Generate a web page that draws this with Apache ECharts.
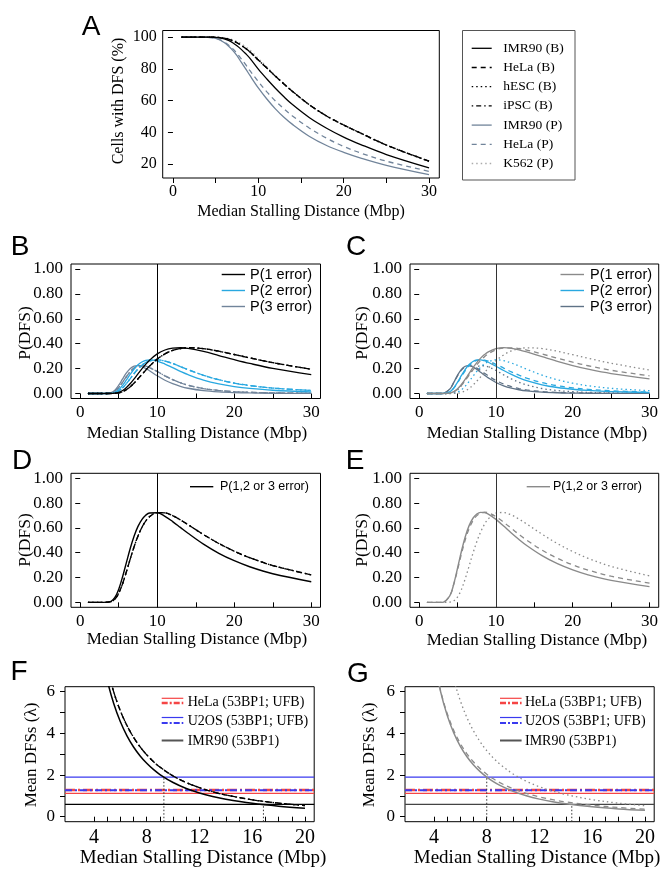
<!DOCTYPE html>
<html><head><meta charset="utf-8">
<script src="https://cdn.jsdelivr.net/npm/echarts@6/dist/echarts.min.js"></script>
<style>html,body{margin:0;padding:0;background:#fff}#c{width:661px;height:872px}</style>
</head><body><div id="c"></div>
<script>
// ---------- shared x grid (Median Stalling Distance, Mbp) ----------
const xs = [1,3,4,4.5,5,5.5,6,6.5,7,7.5,8,8.5,9,10,11,12,13,14,16,18,20,22,25,30];
const xTicks = [0,5,10,15,20,25,30];
const xLabels = [0,10,20,30];
const pctTicks = [20,40,60,80,100];
const probTicks = [0,0.2,0.4,0.6,0.8,1.0];
const refLine = 10;

// ---------- Panel A: cells with DFS (%) ----------
const cellsIMR90B = [100,100,100,99.97,99.86,99.56,98.95,97.94,96.48,94.59,92.29,89.67,86.80,79.8,73.6,67.8,62.4,57.5,49.2,42.6,37.0,32.3,26.0,17.6];
const cellsOtherB = [100,100,100,99.98,99.92,99.75,99.38,98.74,97.79,96.49,94.86,92.94,90.76,85.6,80.5,75.4,70.5,65.8,57.3,50.3,44.6,39.5,32.0,21.8];
const cellsIMR90P = [100,100,99.95,99.75,99.23,98.20,96.59,94.38,91.64,88.3,84.2,80.2,76.0,68.0,61.0,54.8,49.5,45.0,37.4,31.7,27.4,23.8,19.2,13.3];
const cellsHeLaP  = [100,100,99.95,99.76,99.30,98.41,97.01,95.11,92.75,89.8,86.4,82.8,79.0,72.0,65.5,59.8,54.8,50.3,42.6,36.3,31.1,26.9,21.8,15.4];
const cellsK562P  = [100,100,100,99.99,99.96,99.86,99.61,99.14,98.37,97.26,95.80,94.02,91.95,86.6,81.2,75.8,70.7,65.9,57.2,50.1,44.3,39.2,31.7,21.5];

// ---------- Panel B: P(k errors), B-lines ----------
const p1IMR90B = [0,0,0.0004,0.0025,0.0093,0.0240,0.0479,0.0800,0.1178,0.1579,0.1976,0.2345,0.2673,0.3181,0.3495,0.3646,0.3677,0.3624,0.3377,0.3051,0.2721,0.2415,0.2016,0.1517];
const p2IMR90B = [0,0,0.0019,0.0100,0.0305,0.0650,0.1090,0.1553,0.1971,0.2302,0.2532,0.2662,0.2706,0.2609,0.2368,0.2076,0.1784,0.1517,0.1082,0.0772,0.0558,0.0409,0.0264,0.0138];
const p3IMR90B = [0,0,0.0064,0.0269,0.0666,0.1175,0.1655,0.2010,0.2199,0.2238,0.2162,0.2014,0.1827,0.1426,0.1069,0.0788,0.0577,0.0423,0.0231,0.0130,0.0076,0.0046,0.0023,0.0008];
const p1OtherB = [0,0,0.0002,0.0014,0.0056,0.0151,0.0316,0.0550,0.0843,0.1176,0.1525,0.1872,0.2200,0.2766,0.3185,0.3461,0.3615,0.3676,0.3605,0.3396,0.3133,0.2862,0.2478,0.1951];
const p2OtherB = [0,0,0.0011,0.0063,0.0201,0.0452,0.0803,0.1203,0.1607,0.1970,0.2264,0.2481,0.2620,0.2706,0.2607,0.2407,0.2166,0.1915,0.1464,0.1107,0.0838,0.0641,0.0437,0.0245];
const p3OtherB = [0,0,0.0041,0.0182,0.0478,0.0901,0.1359,0.1756,0.2041,0.2199,0.2240,0.2191,0.2081,0.1764,0.1422,0.1116,0.0865,0.0665,0.0396,0.0240,0.0149,0.0096,0.0051,0.0020];

// ---------- Panel C: P(k errors), P-lines ----------
const p1IMR90P = [0,0,0.0038,0.0148,0.0376,0.0722,0.1152,0.1619,0.2074,0.2488,0.2842,0.3127,0.3346,0.3604,0.3679,0.3629,0.3504,0.3335,0.2954,0.2577,0.2243,0.1953,0.1602,0.1180];
const p2IMR90P = [0,0,0.0145,0.0445,0.0913,0.1451,0.1946,0.2330,0.2574,0.2690,0.2700,0.2631,0.2511,0.2191,0.1849,0.1532,0.1261,0.1034,0.0702,0.0483,0.0341,0.0245,0.0156,0.0080];
const p3IMR90P = [0,0,0.0366,0.0890,0.1481,0.1944,0.2191,0.2235,0.2130,0.1938,0.1710,0.1476,0.1256,0.0888,0.0619,0.0431,0.0302,0.0214,0.0111,0.0060,0.0035,0.0021,0.0010,0.0004];
const p1HeLaP = [0,0,0.0040,0.0143,0.0349,0.0659,0.1049,0.1475,0.1903,0.2302,0.2654,0.2952,0.3191,0.3511,0.3655,0.3673,0.3607,0.3488,0.3173,0.2834,0.2515,0.2229,0.1868,0.1417];
const p2HeLaP = [0,0,0.0149,0.0432,0.0865,0.1365,0.1841,0.2226,0.2496,0.2651,0.2706,0.2683,0.2604,0.2347,0.2042,0.1740,0.1469,0.1235,0.0873,0.0624,0.0454,0.0336,0.0221,0.0119];
const p3HeLaP = [0,0,0.0376,0.0871,0.1429,0.1883,0.2154,0.2240,0.2184,0.2035,0.1839,0.1626,0.1417,0.1046,0.0760,0.0550,0.0399,0.0291,0.0160,0.0092,0.0055,0.0034,0.0017,0.0007];
const p1K562P = [0,0,0.0001,0.0006,0.0028,0.0091,0.0214,0.0409,0.0672,0.0986,0.1331,0.1685,0.2029,0.2639,0.3103,0.3416,0.3596,0.3672,0.3611,0.3394,0.3119,0.2832,0.2432,0.1887];
const p2K562P = [0,0,0.0004,0.0028,0.0113,0.0298,0.0595,0.0973,0.1382,0.1774,0.2110,0.2373,0.2555,0.2705,0.2641,0.2453,0.2208,0.1952,0.1478,0.1104,0.0826,0.0623,0.0416,0.0226];
const p3K562P = [0,0,0.0014,0.0090,0.0298,0.0655,0.1103,0.1542,0.1896,0.2126,0.2230,0.2228,0.2146,0.1849,0.1498,0.1174,0.0904,0.0691,0.0403,0.0239,0.0146,0.0091,0.0048,0.0018];

// ---------- Panels D / E: P(1,2 or 3 error) ----------
const p123IMR90B = [0,0,0.0086,0.0393,0.1064,0.2065,0.3224,0.4363,0.5348,0.6119,0.6670,0.7021,0.7206,0.7216,0.6932,0.6510,0.6038,0.5564,0.4690,0.3953,0.3355,0.2870,0.2303,0.1663];
const p123OtherB = [0,0,0.0055,0.0259,0.0735,0.1504,0.2478,0.3509,0.4491,0.5345,0.6029,0.6544,0.6901,0.7236,0.7214,0.6984,0.6646,0.6256,0.5465,0.4743,0.4120,0.3599,0.2966,0.2216];
const p123IMR90P = [0,0,0.0549,0.1483,0.2770,0.4117,0.5289,0.6184,0.6778,0.7116,0.7252,0.7234,0.7113,0.6683,0.6147,0.5592,0.5067,0.4583,0.3767,0.3120,0.2619,0.2219,0.1768,0.1264];
const p123HeLaP  = [0,0,0.0565,0.1446,0.2643,0.3907,0.5044,0.5941,0.6583,0.6988,0.7199,0.7261,0.7212,0.6904,0.6457,0.5963,0.5475,0.5014,0.4206,0.3550,0.3024,0.2599,0.2106,0.1543];
const p123K562P  = [0,0,0.0018,0.0123,0.0439,0.1044,0.1912,0.2924,0.3950,0.4886,0.5671,0.6286,0.6730,0.7193,0.7242,0.7043,0.6708,0.6315,0.5492,0.4737,0.4091,0.3546,0.2896,0.2131];

// ---------- Panels F / G: mean DFSs (lambda) ----------
const lamX = [4,4.5,5,5.5,6,6.5,7,7.5,8,8.5,9,10,11,12,13,14,16,18,20];
const lamXTicks = [4,5,6,7,8,9,10,11,12,13,14,15,16,17,18,19,20];
const lamXLabels = [4,8,12,16,20];
const lamYTicks = [0,1,2,3,4,5,6];
const lamYLabels = [0,2,4,6];
const lamIMR90B = [10.25,8.10,6.56,5.42,4.556,3.882,3.347,2.916,2.5625,2.270,2.025,1.64,1.355,1.139,0.970,0.837,0.641,0.506,0.41];
const lamOtherB = [10.85,8.71,7.15,5.98,5.08,4.377,3.811,3.349,2.969,2.650,2.382,1.956,1.637,1.391,1.198,1.042,0.812,0.6516,0.535];
const lamIMR90P = [7.6,6.005,4.864,4.02,3.378,2.878,2.482,2.162,1.90,1.683,1.501,1.216,1.005,0.844,0.7195,0.620,0.475,0.375,0.304];
const lamHeLaP  = [7.557,6.048,4.956,4.140,3.511,3.019,2.624,2.303,2.039,1.818,1.632,1.337,1.117,0.9474,0.8145,0.708,0.550,0.4402,0.3608];
const lamK562P  = [12.27,9.751,7.938,6.590,5.559,4.756,4.115,3.596,3.170,2.816,2.519,2.050,1.702,1.436,1.228,1.063,0.8187,0.6504,0.5296];
// observed levels
const hela53BP1 = 1.12, helaUFB = 1.28, u2os53BP1 = 1.90, u2osUFB = 1.27, imr9053BP1 = 0.59;
const crossY = [1.90, 0.59];
const crossXF = [9.3, 16.85];
const crossXG = [8.0, 14.45];

// ---------- legend texts ----------
const legendA = ['IMR90 (B)','HeLa (B)','hESC (B)','iPSC (B)','IMR90 (P)','HeLa (P)','K562 (P)'];
const legendP = ['P(1 error)','P(2 error)','P(3 error)'];
const legendSum = 'P(1,2 or 3 error)';
const legendFG = ['HeLa (53BP1; UFB)','U2OS (53BP1; UFB)','IMR90 (53BP1)'];
const xTitle = 'Median Stalling Distance (Mbp)';

// ---------- styles ----------
const SOLID = 'solid', DASH = [5,4], DOT = [1.5,3], DOTDASH = [1.5,3,5,3];
const BLACK = '#000', SKY = '#29a8e0', SLATE = '#71849a', SLATE_C = '#5f7286', GREY = '#8a8a8a', LGREY = '#ababab';
const RED = '#f54545', BLUE = '#3a3aef';
const SERIF = "'Liberation Serif', 'Times New Roman', serif";
const SANS = "'Liberation Sans', Arial, sans-serif";

const chart = echarts.init(document.getElementById('c'), null, {renderer: 'canvas'});

const grids = [
  {left:162.7, top:30.5, width:276.6, height:147.5},
  {left:71, top:264, width:249.5, height:134.5},
  {left:410, top:264, width:249.5, height:134.5},
  {left:71, top:473.3, width:249.5, height:134},
  {left:410, top:473.3, width:249.5, height:134},
  {left:65, top:686.7, width:249.2, height:135},
  {left:405, top:686.7, width:249.2, height:135}
].map(g => Object.assign({show:true, borderColor:'#000', borderWidth:1, backgroundColor:'transparent'}, g));

function axis(gi, min, max, ticks, labels, fontSize, margin, fmt) {
  return {
    type:'value', gridIndex:gi, min, max, scale:false,
    axisLine:{show:false}, splitLine:{show:false},
    axisTick:{show:true, length:5, customValues:ticks, lineStyle:{color:'#000', width:1}},
    axisLabel:{show:true, customValues:labels, fontFamily:SERIF, fontSize, color:'#000', margin,
      formatter: fmt || (v => String(v))}
  };
}
const f2 = v => v.toFixed(2);
const xAxes = [
  axis(0,-1.2,31.2,xTicks,xLabels,16,6),
  axis(1,-1.2,31.2,xTicks,xLabels,17,6),
  axis(2,-1.2,31.2,xTicks,xLabels,17,6),
  axis(3,-1.2,31.2,xTicks,xLabels,17,6),
  axis(4,-1.2,31.2,xTicks,xLabels,17,6),
  axis(5,1.8,20.7,lamXTicks,lamXLabels,20,6),
  axis(6,1.8,20.7,lamXTicks,lamXLabels,20,6)
];
const yAxes = [
  axis(0,11.2,104.2,pctTicks,pctTicks,16,6),
  axis(1,-0.04,1.04,probTicks,probTicks,17,8,f2),
  axis(2,-0.04,1.04,probTicks,probTicks,17,8,f2),
  axis(3,-0.04,1.04,probTicks,probTicks,17,8,f2),
  axis(4,-0.04,1.04,probTicks,probTicks,17,8,f2),
  axis(5,-0.24,6.24,lamYTicks,lamYLabels,17,10),
  axis(6,-0.24,6.24,lamYTicks,lamYLabels,17,10)
];

function S(name, gi, xArr, yArr, color, dash, width, extra) {
  return Object.assign({
    type:'line', name, xAxisIndex:gi, yAxisIndex:gi,
    data: xArr.map((x,i) => [x, yArr[i]]),
    symbol:'none', smooth:0.35, silent:true, animation:false, clip:true,
    lineStyle:{color, width: width || 1.3, type: dash}
  }, extra || {});
}
const vRef = (color) => ({markLine:{symbol:'none', silent:true, animation:false, label:{show:false},
  lineStyle:{color, width:1, type:'solid'}, data:[{xAxis: refLine}]}});

// horizontal observed levels: two-point lines across the axis range
function H(name, gi, y, color, width, dash) {
  return {type:'line', name, xAxisIndex:gi, yAxisIndex:gi, symbol:'none', silent:true, animation:false,
    data:[[xAxes[gi].min, y],[xAxes[gi].max, y]], lineStyle:{color, width, type:dash}};
}
function levels(gi, imrColor, tag) {
  return [
    H(tag+'HeLa 53BP1', gi, hela53BP1, RED, 1.2, 'solid'),
    H(tag+'HeLa UFB', gi, helaUFB, RED, 2.6, [10,3,2,3]),
    H(tag+'U2OS 53BP1', gi, u2os53BP1, BLUE, 1.2, 'solid'),
    H(tag+'U2OS UFB', gi, u2osUFB, BLUE, 1.8, [7,3,2,3]),
    H(tag+'IMR90 53BP1', gi, imr9053BP1, imrColor, 1.2, 'solid')
  ];
}
function crossSeries(gi, xArr, name) {
  return xArr.map((x,i) => ({
    type:'line', name: name + i, xAxisIndex:gi, yAxisIndex:gi, symbol:'none', silent:true, animation:false,
    data:[[x, yAxes[gi].min],[x, crossY[i]]],
    lineStyle:{color:'#333', width:1, type:[1.5,2]}
  }));
}

const series = [
  // A
  S('K562 (P)',0,xs,cellsK562P,LGREY,DOT),
  S('IMR90 (P)',0,xs,cellsIMR90P,SLATE,SOLID),
  S('HeLa (P)',0,xs,cellsHeLaP,SLATE,DASH),
  S('IMR90 (B)',0,xs,cellsIMR90B,BLACK,SOLID),
  S('HeLa (B)',0,xs,cellsOtherB,BLACK,DASH),
  S('hESC (B)',0,xs,cellsOtherB,BLACK,DOT),
  S('iPSC (B)',0,xs,cellsOtherB,BLACK,DOTDASH),
  // B
  S('B P3 IMR90',1,xs,p3IMR90B,SLATE,SOLID,1.3,vRef('#000')),
  S('B P3 HeLa',1,xs,p3OtherB,SLATE,DASH),
  S('B P3 hESC',1,xs,p3OtherB,SLATE,DOT),
  S('B P3 iPSC',1,xs,p3OtherB,SLATE,DOTDASH),
  S('B P2 IMR90',1,xs,p2IMR90B,SKY,SOLID),
  S('B P2 HeLa',1,xs,p2OtherB,SKY,DASH),
  S('B P2 hESC',1,xs,p2OtherB,SKY,DOT),
  S('B P2 iPSC',1,xs,p2OtherB,SKY,DOTDASH),
  S('B P1 IMR90',1,xs,p1IMR90B,BLACK,SOLID),
  S('B P1 HeLa',1,xs,p1OtherB,BLACK,DASH),
  S('B P1 hESC',1,xs,p1OtherB,BLACK,DOT),
  S('B P1 iPSC',1,xs,p1OtherB,BLACK,DOTDASH),
  // C
  S('C P3 IMR90',2,xs,p3IMR90P,SLATE_C,SOLID,1.3,vRef('#333')),
  S('C P3 HeLa',2,xs,p3HeLaP,SLATE_C,DASH),
  S('C P3 K562',2,xs,p3K562P,SLATE_C,DOT),
  S('C P2 IMR90',2,xs,p2IMR90P,SKY,SOLID),
  S('C P2 HeLa',2,xs,p2HeLaP,SKY,DASH),
  S('C P2 K562',2,xs,p2K562P,SKY,DOT),
  S('C P1 IMR90',2,xs,p1IMR90P,GREY,SOLID),
  S('C P1 HeLa',2,xs,p1HeLaP,GREY,DASH),
  S('C P1 K562',2,xs,p1K562P,GREY,DOT),
  // D
  S('D IMR90',3,xs,p123IMR90B,BLACK,SOLID,1.4,vRef('#000')),
  S('D HeLa',3,xs,p123OtherB,BLACK,DASH),
  S('D hESC',3,xs,p123OtherB,BLACK,DOT),
  S('D iPSC',3,xs,p123OtherB,BLACK,DOTDASH),
  // E
  S('E IMR90',4,xs,p123IMR90P,GREY,SOLID,1.4,vRef('#333')),
  S('E HeLa',4,xs,p123HeLaP,GREY,DASH),
  S('E K562',4,xs,p123K562P,GREY,DOT),
  // F
  ...levels(5, '#000', 'F '),
  S('F IMR90',5,lamX,lamIMR90B,BLACK,SOLID,1.5),
  S('F HeLa',5,lamX,lamOtherB,BLACK,DASH),
  S('F hESC',5,lamX,lamOtherB,BLACK,DOT),
  S('F iPSC',5,lamX,lamOtherB,BLACK,DOTDASH),
  ...crossSeries(5, crossXF, 'F cross '),
  // G
  ...levels(6, '#444', 'G '),
  S('G IMR90',6,lamX,lamIMR90P,GREY,SOLID,1.5),
  S('G HeLa',6,lamX,lamHeLaP,GREY,DASH),
  S('G K562',6,lamX,lamK562P,GREY,DOT),
  ...crossSeries(6, crossXG, 'G cross ')
];

// ---------- graphics: panel letters, axis titles, legends ----------
const G = [];
function txt(x, y, text, font, align, rot) {
  G.push({type:'text', x, y, rotation: rot || 0, silent:true,
    style:{text, font, fill:'#000', align: align || 'center', verticalAlign:'middle', textAlign: align || 'center', textVerticalAlign:'middle'}});
}
function seg(x1, y1, x2, color, dash, w) {
  G.push({type:'line', silent:true, shape:{x1, y1, x2, y2:y1},
    style:{stroke:color, lineWidth:w || 1.3, lineDash: dash === 'solid' ? null : dash}});
}
[['A',91,27],['B',20,247],['C',356,247],['D',22,461],['E',355,461],['F',19,672],['G',358,674]]
  .forEach(([t,x,y]) => txt(x, y, t, "28px " + SANS));

const R90 = Math.PI / 2;
txt(301, 211.5, xTitle, "16px " + SERIF);
txt(118.3, 101, 'Cells with DFS (%)', "16px " + SERIF, 'center', R90);
txt(197, 433.3, xTitle, "17px " + SERIF);
txt(537, 433.3, xTitle, "17px " + SERIF);
txt(25, 333, 'P(DFS)', "17.5px " + SERIF, 'center', R90);
txt(362.5, 333, 'P(DFS)', "17.5px " + SERIF, 'center', R90);
txt(197, 640, xTitle, "17px " + SERIF);
txt(537, 641, xTitle, "17px " + SERIF);
txt(25, 540, 'P(DFS)', "17.5px " + SERIF, 'center', R90);
txt(362.5, 540, 'P(DFS)', "17.5px " + SERIF, 'center', R90);
txt(203, 858.3, xTitle, "19px " + SERIF);
txt(537, 858.3, xTitle, "19px " + SERIF);
txt(31.7, 755, 'Mean DFSs (λ)', "17px " + SERIF, 'center', R90);
txt(370, 755, 'Mean DFSs (λ)', "17px " + SERIF, 'center', R90);

// legend A (boxed)
G.push({type:'rect', silent:true, shape:{x:462.5, y:30.5, width:112.5, height:149.5}, style:{fill:'none', stroke:'#555', lineWidth:1}});
const legAStyles = [[BLACK,SOLID],[BLACK,DASH],[BLACK,DOT],[BLACK,DOTDASH],[SLATE,SOLID],[SLATE,DASH],[LGREY,DOT]];
legendA.forEach((t,i) => {
  const y = 48.3 + i * 19.2;
  seg(471.7, y, 491.7, legAStyles[i][0], legAStyles[i][1], 1.3);
  txt(503.3, y, t, "13.5px " + SERIF, 'left');
});
// legends B, C
const legBColors = [BLACK, SKY, SLATE], legCColors = [GREY, SKY, SLATE_C];
legendP.forEach((t,i) => {
  const y = 274.5 + i * 16;
  seg(221.7, y, 245, legBColors[i], 'solid', 1.4);
  txt(250, y, t, "14.5px " + SANS, 'left');
  seg(560.5, y, 584, legCColors[i], 'solid', 1.4);
  txt(590, y, t, "14.5px " + SANS, 'left');
});
// legends D, E
seg(190, 486.7, 213.3, BLACK, 'solid', 1.4);
txt(220, 486.7, legendSum, "12.5px " + SANS, 'left');
seg(526.7, 486.7, 550, GREY, 'solid', 1.4);
txt(553, 486.7, legendSum, "12.5px " + SANS, 'left');
// legends F, G
[[161.7, 187.7, '#000'], [500, 525, '#444']].forEach(([ix, tx, imrC]) => {
  seg(ix, 698.3, ix + 21.6, RED, 'solid', 1.2);
  seg(ix, 703, ix + 21.6, RED, [6,2,2,2], 2.4);
  txt(tx, 702.3, legendFG[0], "14px " + SERIF, 'left');
  seg(ix, 717.5, ix + 21.6, BLUE, 'solid', 1.2);
  seg(ix, 723, ix + 21.6, BLUE, [6,2,2,2], 1.8);
  txt(tx, 721.7, legendFG[1], "14px " + SERIF, 'left');
  seg(ix, 740.5, ix + 21.6, '#555', 'solid', 2);
  txt(tx, 741, legendFG[2], "14px " + SERIF, 'left');
});

chart.setOption({
  animation:false,
  backgroundColor:'#fff',
  textStyle:{fontFamily:SERIF},
  grid: grids, xAxis: xAxes, yAxis: yAxes, series,
  graphic: G
});
</script></body></html>
